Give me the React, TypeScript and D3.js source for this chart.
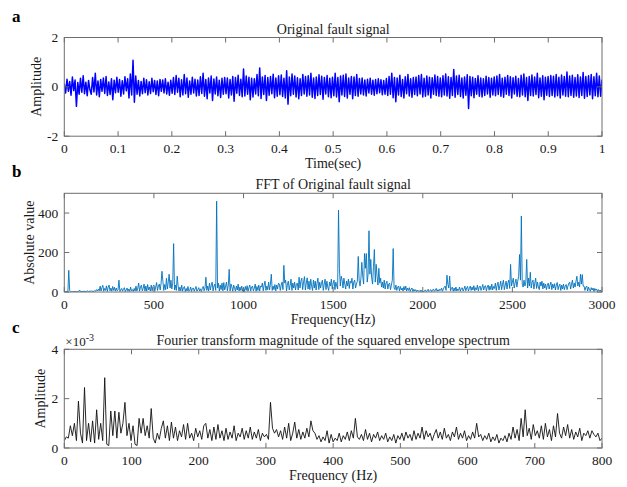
import React from 'react';
import * as d3 from 'd3';

// Panel a: original fault signal, amplitude in hundredths, 400 samples over 0..1 s
const signalA = [
  12,-25,31,-18,22,-34,40,-15,28,-79,18,-30,35,-22,45,-28,19,-36,26,-12,
  -30,38,-21,55,-33,24,-40,30,-18,36,-27,42,-35,20,-31,33,-52,27,-24,39,
  -22,30,-38,25,-29,41,-16,33,-45,52,-33,108,-62,44,-30,26,-37,22,-28,35,
  -24,29,-33,21,-27,35,-20,26,-31,24,-36,30,-18,28,-25,33,-29,19,-34,27,
  -26,38,-31,46,-22,35,-40,29,-33,50,-28,36,-42,24,-30,39,-25,31,-37,28,
  -35,41,-27,55,-38,30,-48,36,-25,44,-55,32,-29,40,-36,27,-43,35,-30,38,
  -28,36,-45,30,-33,42,-58,38,-26,47,-35,31,-40,72,-37,44,-30,39,-52,35,
  -41,33,-29,50,-36,76,-47,40,-31,46,-55,38,-34,42,-28,51,-44,36,-38,45,
  -32,48,-39,35,-45,65,-70,40,-36,52,-30,44,-41,37,-48,33,-35,50,-29,42,
  -38,45,-33,55,-42,36,-47,40,-35,49,-31,43,-50,38,-29,46,-40,35,-44,39,
  -36,55,-41,38,-60,44,-33,47,-39,52,-45,36,-30,42,-48,40,-35,50,-38,34,
  -29,36,-33,28,-37,31,-25,35,-30,27,-34,30,-28,33,-24,29,-32,26,-30,34,
  -35,42,-30,55,-44,38,-60,36,-33,47,-39,30,-45,41,-28,50,-37,33,-42,38,
  -31,40,-36,46,-29,50,-41,35,-38,44,-33,39,-45,37,-30,48,-35,42,-38,36,
  -40,45,-33,52,-37,41,-46,38,-35,70,-42,44,-31,47,-39,36,-45,40,-34,49,
  -88,42,-36,39,-44,34,-30,45,-38,36,-41,33,-35,43,-29,38,-42,35,-33,40,
  -36,44,-31,50,-38,35,-42,39,-30,46,-35,41,-45,37,-29,43,-38,34,-40,47,
  -33,52,-40,38,-55,42,-35,48,-37,40,-31,55,-44,36,-38,45,-52,39,-34,42,
  -39,46,-35,43,-41,50,-36,39,-45,48,-33,42,-38,60,-40,44,-35,47,-42,38,
  -37,49,-43,40,-35,58,-46,42,-39,45,-33,50,-48,41,-36,55,-40,44,-38,30,
];

// Panel b: FFT magnitude, one value per 5 Hz from 0 to 3000 Hz (one row = 100 Hz)
const fftB = [
  2,1,3,2,1,110,8,2,1,2,1,2,3,1,2,1,2,10,3,2,
  2,4,1,5,2,3,6,2,4,3,7,2,5,3,8,4,12,5,14,6,
  30,5,22,34,4,18,8,31,3,25,35,6,20,4,28,8,24,4,20,6,
  12,60,3,10,18,4,14,22,2,10,20,4,15,3,25,6,12,3,18,5,
  30,5,20,45,4,25,35,6,18,40,5,30,4,38,10,25,5,35,6,28,
  35,6,25,48,8,30,40,10,45,105,55,8,38,12,70,15,50,90,20,60,
  15,45,245,10,35,8,80,30,5,25,6,35,4,22,28,3,18,5,28,4,
  8,25,3,18,20,4,15,28,4,12,22,5,16,3,18,28,6,20,75,8,
  30,5,45,10,35,50,6,30,40,8,460,20,45,5,35,12,45,6,48,10,
  30,50,6,35,115,5,40,25,4,35,20,4,30,10,40,5,25,8,30,4,
  20,3,28,8,32,4,22,35,5,25,30,6,18,40,4,28,8,35,5,30,
  25,45,6,35,55,8,30,12,50,10,40,90,8,30,12,38,6,35,15,45,
  40,8,35,50,12,135,45,60,6,40,55,10,35,65,8,45,20,50,10,40,
  45,10,75,20,55,70,12,50,78,10,45,72,15,55,12,65,30,8,60,20,
  55,10,45,70,12,50,20,45,60,8,40,65,12,55,25,8,50,30,65,15,
  45,60,12,50,30,15,415,120,30,80,60,20,70,40,15,55,30,65,18,55,
  45,70,15,50,60,20,40,55,180,60,30,70,150,80,40,195,120,195,50,90,
  310,90,165,70,40,130,215,50,140,80,35,120,45,70,25,50,20,60,15,45,
  55,15,40,45,12,35,60,220,20,12,35,8,25,30,6,28,10,20,5,28,
  10,30,5,20,8,22,3,15,20,2,14,5,12,2,10,4,8,2,10,1,
  4,1,8,10,2,6,14,3,8,12,2,10,15,3,9,18,4,12,5,14,
  8,20,4,15,25,30,8,85,40,20,80,6,18,25,4,20,6,25,5,15,
  8,25,4,18,22,5,15,30,6,20,28,5,18,30,8,25,10,32,6,22,
  12,35,6,25,30,8,22,38,10,28,32,6,25,35,9,30,12,40,10,28,
  18,45,8,35,50,10,30,55,12,40,60,12,35,55,15,45,60,18,140,30,
  50,70,20,45,65,25,55,80,190,60,385,40,25,60,30,50,165,20,70,30,
  100,20,50,60,15,45,70,18,50,25,12,50,30,55,15,45,20,40,12,35,
  45,15,35,50,12,40,20,42,10,35,48,12,30,40,8,35,15,40,12,30,
  38,12,30,45,50,15,40,60,20,45,25,55,80,30,50,25,90,40,88,30,
  30,8,25,30,5,25,12,4,22,10,20,3,18,8,15,3,12,5,10,2,
  4,
];

// Panel c: squared envelope spectrum, hundredths of 1e-3, 267 values over 0..800 Hz
const envC = [
  30,45,40,90,50,100,30,190,60,20,
  245,30,100,25,110,20,155,35,100,30,
  285,15,10,150,50,150,40,145,60,100,
  185,50,100,30,90,15,10,120,60,120,
  50,90,40,160,40,20,60,35,80,110,
  40,90,30,105,40,85,30,70,45,95,
  35,100,40,60,30,80,45,70,35,90,
  100,40,75,30,85,35,95,40,70,30,
  80,35,65,40,90,30,60,45,80,35,
  70,40,85,35,65,40,75,30,60,45,
  55,35,185,80,60,75,45,70,35,85,
  40,100,30,60,105,40,75,35,65,40,
  80,45,110,70,60,35,50,25,45,30,
  70,20,55,25,40,30,60,25,50,35,
  65,30,70,40,120,45,35,55,30,75,
  35,60,25,55,40,65,30,50,35,60,
  25,45,30,55,20,50,35,60,30,65,
  40,55,30,70,35,60,40,85,35,70,
  45,60,30,55,75,40,65,35,80,40,
  55,30,65,45,85,35,60,40,70,30,
  50,35,65,40,100,45,55,30,50,35,
  60,25,45,30,55,20,40,30,50,25,
  60,35,85,40,75,30,120,45,155,50,
  80,35,95,50,70,40,90,35,100,45,
  75,30,90,45,140,60,40,85,50,95,
  40,75,35,65,45,80,30,60,50,70,
  40,70,55,45,60,30,40,
];

const timeTicks = [0, 0.1, 0.2, 0.3, 0.4, 0.5, 0.6, 0.7, 0.8, 0.9, 1];
const timeTickLabels = ['0', '0.1', '0.2', '0.3', '0.4', '0.5', '0.6', '0.7', '0.8', '0.9', '1'];
const ampTicksA = [-2, 0, 2];
const freqTicksB = [0, 500, 1000, 1500, 2000, 2500, 3000];
const absTicksB = [0, 200, 400];
const freqTicksC = [0, 100, 200, 300, 400, 500, 600, 700, 800];
const ampTicksC = [0, 2, 4];

const FONT = "'Liberation Serif', 'Times New Roman', serif";
const X0 = 64.3;
const X1 = 602;
const PH = 98.7;

type PanelProps = {
  id: string;
  top: number;
  letter: string;
  title: string;
  xLabel: string;
  yLabel: string;
  yLabelX: number;
  xDomain: [number, number];
  yDomain: [number, number];
  xTicks: number[];
  xTickLabels: string[];
  yTicks: number[];
  points: [number, number][];
  color: string;
  width: number;
  exponent?: boolean;
};

function Panel(p: PanelProps) {
  const x = d3.scaleLinear().domain(p.xDomain).range([X0, X1]);
  const y = d3.scaleLinear().domain(p.yDomain).range([p.top + PH, p.top]);
  const line = d3
    .line<[number, number]>()
    .x((d) => x(d[0]))
    .y((d) => y(d[1]));
  const bottom = p.top + PH;
  const tl = 5;
  const axisColor = '#6e6e6e';
  return (
    <g>
      <defs>
        <clipPath id={p.id}>
          <rect x={X0} y={p.top} width={X1 - X0} height={PH} />
        </clipPath>
      </defs>
      <path
        d={line(p.points) || ''}
        fill="none"
        stroke={p.color}
        strokeWidth={p.width}
        strokeLinejoin="round"
        clipPath={`url(#${p.id})`}
      />
      <rect x={X0} y={p.top} width={X1 - X0} height={PH} fill="none" stroke={axisColor} strokeWidth={1} />
      {p.xTicks.map((t, i) => (
        <g key={'x' + i}>
          <line x1={x(t)} x2={x(t)} y1={bottom} y2={bottom - tl} stroke={axisColor} />
          <line x1={x(t)} x2={x(t)} y1={p.top} y2={p.top + tl} stroke={axisColor} />
          <text x={x(t)} y={bottom + 17} textAnchor="middle" fontSize={13.5} fill="#1a1a1a">
            {p.xTickLabels[i]}
          </text>
        </g>
      ))}
      {p.yTicks.map((t, i) => (
        <g key={'y' + i}>
          <line x1={X0} x2={X0 + tl} y1={y(t)} y2={y(t)} stroke={axisColor} />
          <line x1={X1} x2={X1 - tl} y1={y(t)} y2={y(t)} stroke={axisColor} />
          <text x={X0 - 6} y={y(t) + 4.5} textAnchor="end" fontSize={13.5} fill="#1a1a1a">
            {String(t)}
          </text>
        </g>
      ))}
      <text x={(X0 + X1) / 2} y={p.top - 4} textAnchor="middle" fontSize={14} fill="#1a1a1a">
        {p.title}
      </text>
      <text x={(X0 + X1) / 2} y={bottom + 31.5} textAnchor="middle" fontSize={14} fill="#1a1a1a">
        {p.xLabel}
      </text>
      <text
        transform={`translate(${p.yLabelX},${p.top + PH / 2}) rotate(-90)`}
        textAnchor="middle"
        fontSize={14}
        fill="#1a1a1a"
      >
        {p.yLabel}
      </text>
      <text x={12} y={p.top - 16} fontSize={17} fontWeight="bold" fill="#000">
        {p.letter}
      </text>
      {p.exponent && (
        <text x={X0 + 1} y={p.top - 3} fontSize={13} fill="#1a1a1a">
          ×10
          <tspan dy={-5} fontSize={10}>
            -3
          </tspan>
        </text>
      )}
    </g>
  );
}

export default function App() {
  const ptsA: [number, number][] = signalA.map((v, i) => [i / (signalA.length - 1), v / 100]);
  const ptsB: [number, number][] = fftB.map((v, i) => [i * 5, v]);
  const ptsC: [number, number][] = envC.map((v, i) => [(i * 800) / (envC.length - 1), v / 100]);
  return (
    <svg
      width={627}
      height={487}
      viewBox="0 0 627 487"
      style={{ position: 'absolute', left: 0, top: 0, background: '#fff', fontFamily: FONT }}
    >
      <rect width={627} height={487} fill="#fff" />
      <Panel
        id="ca"
        top={37.5}
        letter="a"
        title="Original fault signal"
        xLabel="Time(sec)"
        yLabel="Amplitude"
        yLabelX={41}
        xDomain={[0, 1]}
        yDomain={[-2, 2]}
        xTicks={timeTicks}
        xTickLabels={timeTickLabels}
        yTicks={ampTicksA}
        points={ptsA}
        color="#0000ff"
        width={1.5}
      />
      <Panel
        id="cb"
        top={193.3}
        letter="b"
        title="FFT of Original fault signal"
        xLabel="Frequency(Hz)"
        yLabel="Absolute value"
        yLabelX={34}
        xDomain={[0, 3000]}
        yDomain={[0, 500]}
        xTicks={freqTicksB}
        xTickLabels={freqTicksB.map(String)}
        yTicks={absTicksB}
        points={ptsB}
        color="#0072bd"
        width={0.9}
      />
      <Panel
        id="cc"
        top={349.3}
        letter="c"
        title="Fourier transform magnitude of the squared envelope spectrum"
        xLabel="Frequency (Hz)"
        yLabel="Amplitude"
        yLabelX={45}
        xDomain={[0, 800]}
        yDomain={[0, 4]}
        xTicks={freqTicksC}
        xTickLabels={freqTicksC.map(String)}
        yTicks={ampTicksC}
        points={ptsC}
        color="#111"
        width={0.9}
        exponent
      />
    </svg>
  );
}
